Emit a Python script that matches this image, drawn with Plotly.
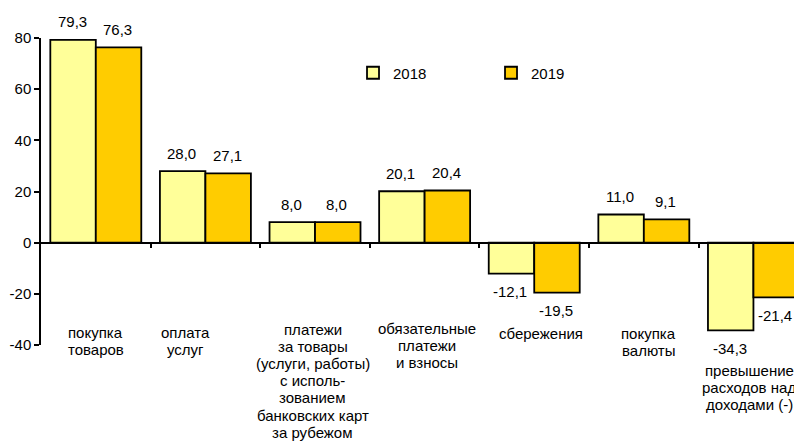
import plotly.graph_objects as go

# ---- data ----
categories = [
    "покупка\nтоваров",
    "оплата\nуслуг",
    "платежи\nза товары\n(услуги, работы)\nс исполь-\nзованием\nбанковских карт\nза рубежом",
    "обязательные\nплатежи\nи взносы",
    "сбережения",
    "покупка\nвалюты",
    "превышение\nрасходов над\nдоходами (-)",
]
values_2018 = [79.3, 28.0, 8.0, 20.1, -12.1, 11.0, -34.3]
values_2019 = [76.3, 27.1, 8.0, 20.4, -19.5, 9.1, -21.4]
series_names = ["2018", "2019"]
y_ticks = [-40, -20, 0, 20, 40, 60, 80]

# ---- layout helpers (positions / styles) ----
label_dx = [0.0, -0.18, -0.02, 0.02, 0.06, 0.04, -0.04]
label_shift = [13, 13, 16, 17, 12, 12, -25]   # px above plot bottom of first line centre
LINE = 17.2
colors = ["#FFFF99", "#FFCC00"]
FONT = "Liberation Sans, Arial, sans-serif"
FS = 15
BARGAP = 0.17
half = (1 - BARGAP) / 4

xs = list(range(len(categories)))

fig = go.Figure()
for name, vals, col in zip(series_names, [values_2018, values_2019], colors):
    fig.add_trace(go.Bar(
        x=xs, y=vals, name=name,
        marker=dict(color=col, line=dict(color="black", width=1.8)),
    ))

annotations = []
for vals, off in [(values_2018, -half), (values_2019, half)]:
    for i, v in enumerate(vals):
        annotations.append(dict(
            x=i + off, y=v, xref="x", yref="y",
            text=f"{v:.1f}".replace(".", ","),
            showarrow=False, yshift=18 if v >= 0 else -18, xshift=-1,
            font=dict(family=FONT, size=FS, color="black"),
        ))
for i, c in enumerate(categories):
    for k, line in enumerate(c.split("\n")):
        annotations.append(dict(
            x=i + label_dx[i], y=0, xref="x", yref="paper",
            text=line, showarrow=False, yanchor="middle", xanchor="center",
            yshift=label_shift[i] - k * LINE,
            font=dict(family=FONT, size=FS, color="black"),
        ))

# page body has an 8px margin: compensate so the plot lands where the reference has it
fig.update_layout(
    width=794, height=435,
    margin=dict(l=33, r=0, t=30, b=98),
    paper_bgcolor="white", plot_bgcolor="white",
    barmode="group", bargap=BARGAP, bargroupgap=0,
    font=dict(family=FONT, size=FS, color="black"),
    showlegend=True,
    legend=dict(
        orientation="h", x=0.410, y=1 - (73 - 38) / 307,
        xanchor="left", yanchor="middle",
        entrywidth=93, entrywidthmode="pixels",
        font=dict(family=FONT, size=FS, color="black"),
        bgcolor="rgba(0,0,0,0)",
    ),
    xaxis=dict(
        type="linear", range=[-0.5, 6.443],
        anchor="free", position=1 / 3,
        showline=True, linecolor="black", linewidth=1.5,
        ticks="outside", tickvals=[i + 0.5 for i in xs[:-1]],
        ticklen=5, tickwidth=1.5, tickcolor="black",
        showticklabels=False, showgrid=False, zeroline=False,
    ),
    yaxis=dict(
        range=[-40, 80], tickvals=y_ticks,
        ticktext=[str(t) for t in y_ticks],
        showline=True, linecolor="black", linewidth=1.5,
        ticks="outside", ticklen=5, tickwidth=1.5, tickcolor="black",
        showgrid=False, zeroline=False, automargin=False,
        tickfont=dict(family=FONT, size=FS, color="black"),
    ),
    annotations=annotations,
)

fig.write_html("out.html")
